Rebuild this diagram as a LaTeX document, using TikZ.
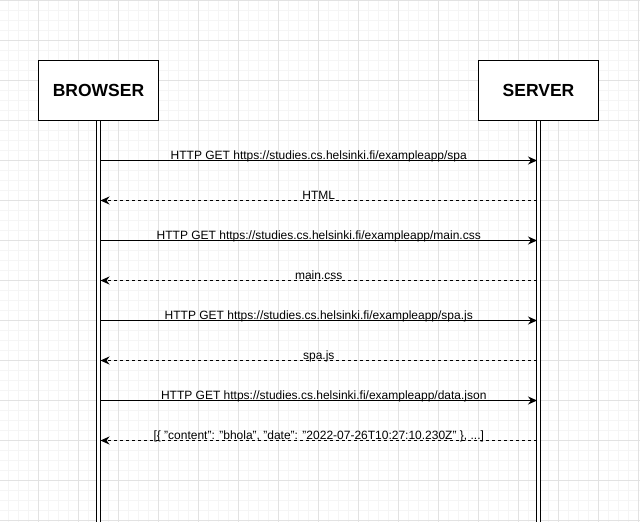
\documentclass[tikz,border=0pt]{standalone}
\usepackage{fontspec}
\setmainfont{Liberation Sans}
\usetikzlibrary{arrows.meta}
\definecolor{gridminor}{HTML}{F5F5F5}
\definecolor{gridmajor}{HTML}{E2E2E2}
\tikzset{
  actor/.style={draw, line width=1pt, fill=white, minimum width=120pt, minimum height=60pt,
    inner sep=0pt, font=\bfseries\fontsize{17.5}{20}\selectfont},
  lifeline/.style={draw=black, line width=1pt, double=white, double distance=2.5pt},
  req/.style={draw, line width=1pt, -{Stealth[length=9pt,width=8pt,inset=3pt]}},
  resp/.style={draw, line width=1pt, dash pattern=on 3pt off 3pt, -{Stealth[length=9pt,width=8pt,inset=3pt]}},
  lab/.style={font=\fontsize{12}{14}\selectfont, anchor=base, inner sep=0pt, yshift=1.5pt}
}
\begin{document}
\begin{tikzpicture}[x=1pt,y=-1pt]
\useasboundingbox (0,0) rectangle (640,522);
\fill[white] (0,0) rectangle (640,522);
% grid
\foreach \x in {8,18,...,638} \draw[gridminor, line width=1pt] (\x,0) -- (\x,522);
\foreach \y in {0.5,10.5,...,520.5} \draw[gridminor, line width=1pt] (0,\y) -- (640,\y);
\foreach \x in {38,78,...,638} \draw[gridmajor, line width=1pt] (\x,0) -- (\x,522);
\foreach \y in {0.5,40.5,...,520.5} \draw[gridmajor, line width=1pt] (0,\y) -- (640,\y);
% actors
\node[actor] (browser) at (98.5,90) {BROWSER};
\node[actor] (server) at (538.5,90) {SERVER};
\coordinate (bend) at (98.5,522);
\coordinate (send) at (538.5,522);
\draw[lifeline] (browser.south) -- (bend);
\draw[lifeline] (server.south) -- (send);
% message anchors
\foreach \i/\y in {1/160.5,2/200.5,3/240.5,4/280.5,5/320.5,6/360.5,7/400.5,8/440.5}{
  \coordinate (b\i) at (100.5,\y);
  \coordinate (s\i) at (537,\y);
}
\draw[req] (b1) -- (s1) node[lab, midway] {HTTP GET https://studies.cs.helsinki.fi/exampleapp/spa};
\draw[resp] (s2) -- (b2) node[lab, midway] {HTML};
\draw[req] (b3) -- (s3) node[lab, midway] {HTTP GET https://studies.cs.helsinki.fi/exampleapp/main.css};
\draw[resp] (s4) -- (b4) node[lab, midway] {main.css};
\draw[req] (b5) -- (s5) node[lab, midway] {HTTP GET https://studies.cs.helsinki.fi/exampleapp/spa.js};
\draw[resp] (s6) -- (b6) node[lab, midway] {spa.js};
\draw[req] (b7) -- (s7) node[lab, midway, xshift=5pt] {HTTP GET https://studies.cs.helsinki.fi/exampleapp/data.json};
\draw[resp] (s8) -- (b8) node[lab, midway] {[\{ "content": "bhola", "date": "2022-07-26T10:27:10.230Z" \}, ...]};
\end{tikzpicture}
\end{document}
